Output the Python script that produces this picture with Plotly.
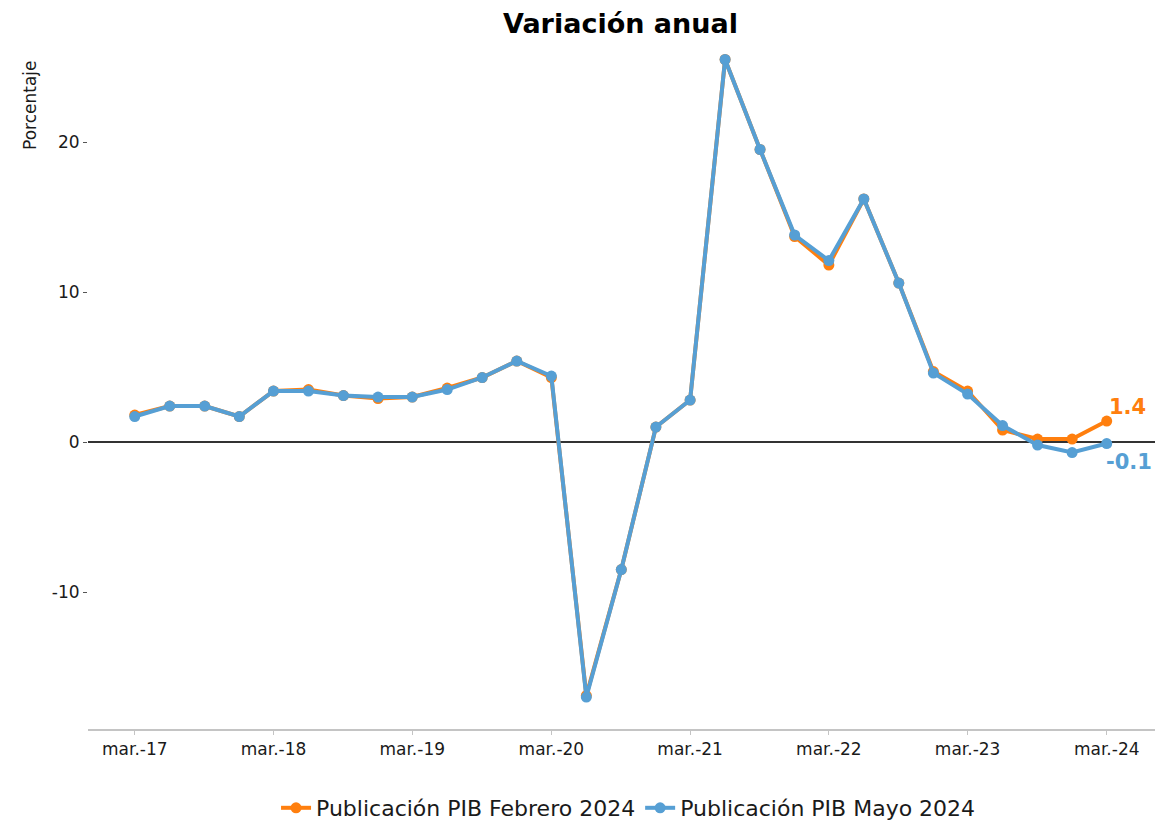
import plotly.graph_objects as go

# trimestres mar.-17 ... mar.-24
fechas = ['2017-03-01', '2017-06-01', '2017-09-01', '2017-12-01',
          '2018-03-01', '2018-06-01', '2018-09-01', '2018-12-01',
          '2019-03-01', '2019-06-01', '2019-09-01', '2019-12-01',
          '2020-03-01', '2020-06-01', '2020-09-01', '2020-12-01',
          '2021-03-01', '2021-06-01', '2021-09-01', '2021-12-01',
          '2022-03-01', '2022-06-01', '2022-09-01', '2022-12-01',
          '2023-03-01', '2023-06-01', '2023-09-01', '2023-12-01',
          '2024-03-01']

pib_feb = [1.8, 2.4, 2.4, 1.7, 3.4, 3.5, 3.1, 2.9, 3.0, 3.6, 4.3, 5.4,
           4.3, -16.9, -8.5, 1.0, 2.8, 25.5, 19.5, 13.7, 11.8, 16.2, 10.6,
           4.7, 3.4, 0.8, 0.2, 0.2, 1.4]

pib_may = [1.7, 2.4, 2.4, 1.7, 3.4, 3.4, 3.1, 3.0, 3.0, 3.5, 4.3, 5.4,
           4.4, -17.0, -8.5, 1.0, 2.8, 25.5, 19.5, 13.8, 12.1, 16.2, 10.6,
           4.6, 3.2, 1.1, -0.2, -0.7, -0.1]

tick_fechas = ['2017-03-01', '2018-03-01', '2019-03-01', '2020-03-01',
               '2021-03-01', '2022-03-01', '2023-03-01', '2024-03-01']
tick_textos = ['mar.-17', 'mar.-18', 'mar.-19', 'mar.-20',
               'mar.-21', 'mar.-22', 'mar.-23', 'mar.-24']

naranja = '#ff7f0e'
azul = '#569fd4'
fuente = 'DejaVu Sans, Arial, sans-serif'

fig = go.Figure()
fig.add_trace(go.Scatter(
    x=fechas, y=pib_feb, mode='lines+markers',
    name='Publicación PIB Febrero 2024',
    line=dict(color=naranja, width=4),
    marker=dict(color=naranja, size=11),
))
fig.add_trace(go.Scatter(
    x=fechas, y=pib_may, mode='lines+markers',
    name='Publicación PIB Mayo 2024',
    line=dict(color=azul, width=4),
    marker=dict(color=azul, size=11),
))

# etiquetas del último dato
fig.add_annotation(x=fechas[-1], y=pib_feb[-1], text=f'<b>{pib_feb[-1]}</b>',
                   showarrow=False, xanchor='left', yanchor='middle',
                   xshift=0, yshift=14, font=dict(color=naranja, size=21))
fig.add_annotation(x=fechas[-1], y=pib_may[-1], text=f'<b>{pib_may[-1]}</b>',
                   showarrow=False, xanchor='left', yanchor='middle',
                   xshift=-3, yshift=-18, font=dict(color=azul, size=21))

fig.add_annotation(x=-0.0545, y=0.89, xref='paper', yref='paper', text='Porcentaje',
                   showarrow=False, textangle=-90, xanchor='center', yanchor='middle',
                   font=dict(size=17, color='#1a1a1a'))

fig.update_layout(
    width=1174, height=825,
    font=dict(family=fuente, color='#1a1a1a'),
    title=dict(text='<b>Variación anual</b>', x=0.5217, xanchor='center',
               y=0.9806, yanchor='middle', font=dict(size=27, color='#000000')),
    plot_bgcolor='white', paper_bgcolor='white',
    margin=dict(l=80, r=27, t=20, b=104),
    showlegend=True,
    legend=dict(orientation='h', x=0.5066, xanchor='center',
                yref='container', y=0.0303, yanchor='middle',
                font=dict(size=22, color='#1a1a1a')),
    xaxis=dict(
        type='date', range=['2016-10-29', '2024-07-06'],
        tickvals=tick_fechas, ticktext=tick_textos,
        showgrid=False, zeroline=False,
        showline=True, linecolor='#c4c4c4', linewidth=1.5,
        ticks='outside', ticklen=4, tickcolor='#c4c4c4', tickwidth=1,
        tickfont=dict(size=17, color='#1a1a1a'),
    ),
    yaxis=dict(
        range=[-19.13, 27.6],
        tickvals=[-10, 0, 10, 20], ticktext=['-10', '0', '10', '20'],
        showgrid=False, showline=False,
        zeroline=True, zerolinecolor='#333333', zerolinewidth=1.5,
        ticks='outside', ticklen=4, tickcolor='#555555', tickwidth=1,
        tickfont=dict(size=17, color='#1a1a1a'),
    ),
)

fig.write_html('out.html')
